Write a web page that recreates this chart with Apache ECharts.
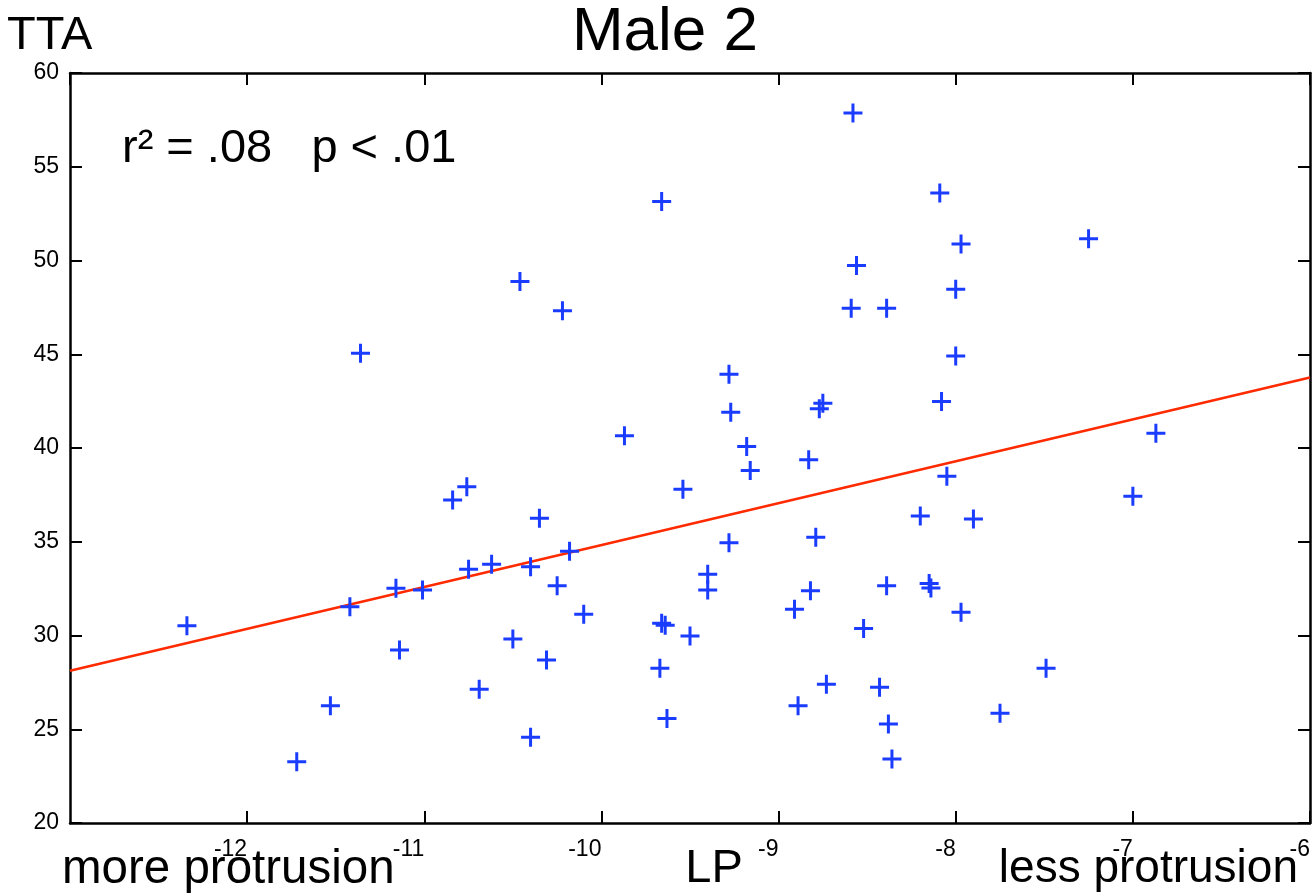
<!DOCTYPE html>
<html>
<head>
<meta charset="utf-8">
<script src="https://cdn.jsdelivr.net/npm/echarts@6/dist/echarts.min.js"></script>
<style>
html,body{margin:0;padding:0;background:#ffffff;}
#chart{width:1314px;height:896px;}
</style>
</head>
<body>
<div id="chart"></div>
<script>
// LP (x) values
const lpValues = [
  -12.34, -11.72, -11.53, -11.42, -11.36, -11.16, -11.14, -11.01, -10.84, -10.76,
  -10.75, -10.69, -10.62, -10.50, -10.46, -10.40, -10.40, -10.35, -10.31, -10.25,
  -10.22, -10.18, -10.10, -9.87, -9.67, -9.66, -9.66, -9.64, -9.63, -9.54,
  -9.50, -9.40, -9.40, -9.28, -9.28, -9.27, -9.18, -9.16, -8.91, -8.89,
  -8.83, -8.82, -8.79, -8.77, -8.75, -8.73, -8.59, -8.58, -8.56, -8.52,
  -8.43, -8.39, -8.39, -8.38, -8.36, -8.20, -8.15, -8.14, -8.09, -8.08,
  -8.05, -8.00, -8.00, -7.97, -7.97, -7.90, -7.75, -7.49, -7.25, -7.00,
  -6.87
];
// TTA (y) values
const ttaValues = [
  30.52, 23.27, 26.25, 31.54, 45.06, 32.52, 29.23, 32.43, 37.23, 37.94,
  33.53, 27.13, 33.80, 29.81, 48.88, 33.67, 24.57, 36.25, 28.69, 32.66,
  47.32, 34.50, 31.13, 40.65, 28.25, 53.15, 30.65, 30.55, 25.58, 37.80,
  29.97, 33.27, 32.43, 43.94, 34.95, 41.91, 40.08, 38.80, 31.40, 26.25,
  39.37, 32.39, 35.24, 42.09, 42.39, 27.40, 47.46, 57.87, 49.73, 30.38,
  27.24, 47.46, 32.66, 25.28, 23.41, 36.38, 32.78, 32.54, 53.60, 42.48,
  38.50, 48.47, 44.91, 50.88, 31.24, 36.22, 25.85, 28.25, 51.16, 37.43,
  40.79
];
// Regression line end points
const fitX = [-13, -6];
const fitY = [28.12, 43.76];

// Axis ranges
const xMin = -13, xMax = -6, xStep = 1;
const yMin = 20, yMax = 60, yStep = 5;

// Texts
const titleText = 'Male 2';
const yNameText = 'TTA';
const statText = 'r\u00B2 = .08   p < .01';
const xNameText = 'LP';
const leftNote = 'more protrusion';
const rightNote = 'less protrusion';

const FONT = '"Liberation Sans", Arial, Helvetica, sans-serif';

const chart = echarts.init(document.getElementById('chart'));

const axisLine = {show: true, onZero: false, lineStyle: {color: '#000', width: 2.5}};
const axisTick = {show: true, inside: true, length: 12, lineStyle: {color: '#000', width: 2}};
const labelStyle = {color: '#000', fontSize: 23, fontFamily: FONT};

const scatterData = lpValues.map((x, i) => [x, ttaValues[i]]);
const fitData = fitX.map((x, i) => [x, fitY[i]]);

chart.setOption({
  animation: false,
  backgroundColor: '#ffffff',
  grid: {left: 70, right: 4, top: 73, bottom: 73, containLabel: false},
  xAxis: [
    {type: 'value', position: 'bottom', min: xMin, max: xMax, interval: xStep,
     axisLine: axisLine, axisTick: axisTick, splitLine: {show: false},
     axisLabel: Object.assign({showMinLabel: false, align: 'right', margin: 15}, labelStyle)},
    {type: 'value', position: 'top', min: xMin, max: xMax, interval: xStep,
     axisLine: axisLine, axisTick: axisTick, splitLine: {show: false},
     axisLabel: {show: false}}
  ],
  yAxis: [
    {type: 'value', position: 'left', min: yMin, max: yMax, interval: yStep,
     axisLine: axisLine, axisTick: axisTick, splitLine: {show: false},
     axisLabel: Object.assign({margin: 11}, labelStyle)},
    {type: 'value', position: 'right', min: yMin, max: yMax, interval: yStep,
     axisLine: axisLine, axisTick: axisTick, splitLine: {show: false},
     axisLabel: {show: false}}
  ],
  graphic: [
    {type: 'text', z: 10, style: {x: 665, y: 32.5, text: titleText, align: 'center', verticalAlign: 'middle',
      font: '62px ' + FONT, fill: '#000'}},
    {type: 'text', z: 10, style: {x: 7, y: 36.5, text: yNameText, align: 'left', verticalAlign: 'middle',
      font: '47px ' + FONT, fill: '#000'}},
    {type: 'text', z: 10, style: {x: 122, y: 148.7, text: statText, align: 'left', verticalAlign: 'middle',
      font: '47px ' + FONT, fill: '#000'}},
    {type: 'text', z: 10, style: {x: 62, y: 869.5, text: leftNote, align: 'left', verticalAlign: 'middle',
      font: '47.5px ' + FONT, fill: '#000'}},
    {type: 'text', z: 10, style: {x: 714, y: 869.5, text: xNameText, align: 'center', verticalAlign: 'middle',
      font: '47px ' + FONT, fill: '#000'}},
    {type: 'text', z: 10, style: {x: 1298, y: 869.5, text: rightNote, align: 'right', verticalAlign: 'middle',
      font: '46px ' + FONT, fill: '#000'}}
  ],
  series: [
    {type: 'line', xAxisIndex: 0, yAxisIndex: 0, data: fitData, showSymbol: false, symbol: 'none',
     lineStyle: {color: '#ff2a00', width: 2.5}, silent: true, z: 2},
    {type: 'scatter', xAxisIndex: 0, yAxisIndex: 0, data: scatterData,
     symbol: 'path://M8,0H11V8H19V11H11V19H8V11H0V8H8Z', symbolSize: 19,
     itemStyle: {color: '#1a3cff', opacity: 1}, silent: true, z: 3}
  ]
});
</script>
</body>
</html>
